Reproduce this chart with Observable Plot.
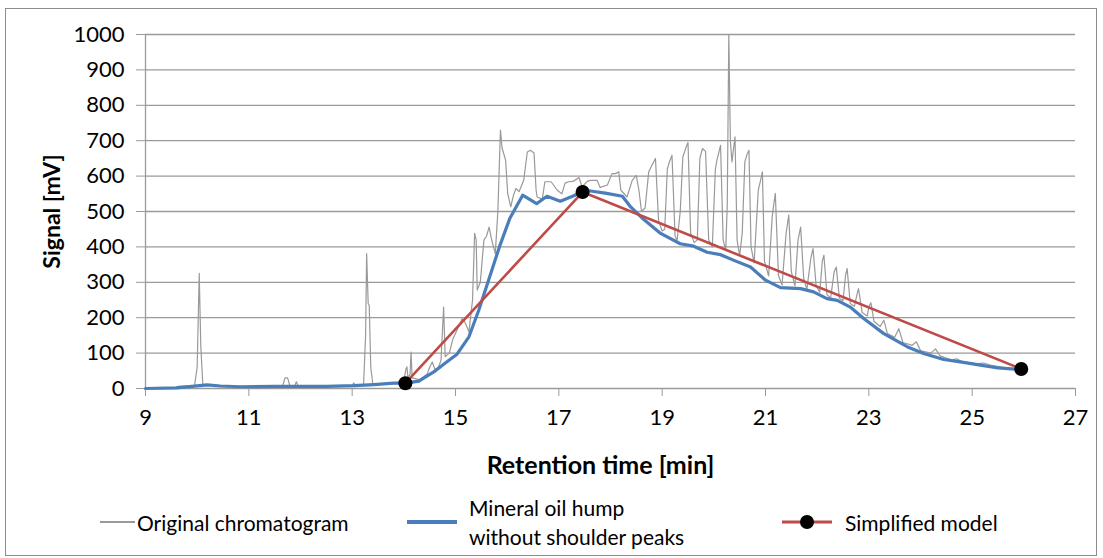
<!DOCTYPE html>
<html><head><meta charset="utf-8">
<script src="https://cdn.jsdelivr.net/npm/d3@7"></script>
<script src="https://cdn.jsdelivr.net/npm/@observablehq/plot@0.6"></script>
<style>
body{margin:0;background:#fff;font-family:Lato,"Open Sans",sans-serif;}
#wrap{position:relative;width:1103px;height:558px;overflow:hidden;background:#fff;}
#frame{position:absolute;left:5px;top:8px;width:1092px;height:548px;border:1px solid #8c8c8c;box-sizing:border-box;pointer-events:none;}
#chart{position:absolute;left:0;top:0;}
#legend{position:absolute;left:0;top:490px;width:1103px;height:68px;font-size:21px;color:#000;}
.item{position:absolute;}
.lt{position:absolute;white-space:nowrap;line-height:29px;}
</style></head>
<body>
<div id="wrap"><div id="chart"></div><div id="legend"></div><div id="frame"></div></div>
<script>
// ---- data ----
const xTicks = [9, 11, 13, 15, 17, 19, 21, 23, 25, 27];
const yTicks = [0, 100, 200, 300, 400, 500, 600, 700, 800, 900, 1000];
const xLabel = "Retention time [min]";
const yLabel = "Signal [mV]";
const seriesNames = ["Original chromatogram", "Mineral oil hump\nwithout shoulder peaks", "Simplified model"];

const chromTime = [9.0,9.6,9.62,9.95,10.0,10.04,10.07,10.11,10.3,10.6,11.65,11.7,11.75,11.8,11.88,11.92,11.96,13.0,13.03,13.06,13.22,13.26,13.28,13.31,13.33,13.36,13.4,13.9,14.0,14.04,14.06,14.08,14.12,14.14,14.16,14.3,14.45,14.5,14.55,14.6,14.65,14.72,14.77,14.8,14.88,14.95,15.03,15.13,15.19,15.26,15.33,15.37,15.4,15.42,15.48,15.55,15.6,15.65,15.7,15.77,15.82,15.87,15.9,15.97,16.01,16.07,16.12,16.17,16.23,16.32,16.39,16.45,16.52,16.56,16.58,16.68,16.73,16.85,16.97,17.06,17.12,17.19,17.27,17.33,17.39,17.45,17.55,17.61,17.74,17.8,17.94,18.03,18.1,18.16,18.2,18.32,18.42,18.5,18.55,18.6,18.67,18.74,18.8,18.87,18.93,19.0,19.05,19.1,19.14,19.19,19.25,19.29,19.35,19.4,19.46,19.5,19.55,19.62,19.68,19.73,19.78,19.84,19.9,19.97,20.03,20.06,20.13,20.18,20.23,20.26,20.29,20.32,20.35,20.41,20.45,20.5,20.55,20.6,20.64,20.68,20.72,20.78,20.86,20.9,20.94,20.98,21.06,21.13,21.16,21.19,21.25,21.32,21.4,21.45,21.5,21.57,21.63,21.68,21.74,21.8,21.88,21.92,21.98,22.05,22.1,22.13,22.19,22.26,22.33,22.37,22.43,22.5,22.55,22.58,22.64,22.72,22.77,22.8,22.87,22.97,23.0,23.04,23.1,23.22,23.29,23.36,23.5,23.58,23.66,23.84,23.92,24.0,24.2,24.29,24.38,24.6,24.7,24.8,25.1,25.22,25.35,25.6];
const chromSignal = [0,0,6,8,60,325,120,10,9,5,5,30,30,5,5,19,5,8,16,8,9,150,381,240,235,60,12,14,20,55,61,30,40,103,30,25,40,60,75,55,52,80,230,90,100,140,165,198,185,160,250,438,420,278,300,419,430,456,420,381,500,730,680,645,551,513,545,565,556,588,668,673,665,560,541,535,584,584,560,550,580,584,585,590,596,570,585,588,588,568,575,607,607,612,560,541,588,602,560,500,510,612,630,650,475,445,450,620,640,659,430,419,500,654,680,695,440,412,420,650,678,670,420,400,620,645,687,420,391,520,1000,700,640,711,420,375,440,640,660,673,400,355,560,585,612,360,318,485,520,551,320,292,440,490,330,290,420,456,310,280,370,395,290,272,360,377,265,255,330,343,255,248,320,339,240,232,265,282,215,205,230,242,190,175,193,155,145,169,130,122,132,107,100,112,92,80,84,76,70,72,66,60];

const humpTime = [9.0,9.6,9.9,10.19,10.45,10.84,11.5,12.5,13.03,13.42,13.8,14.03,14.29,14.58,14.81,15.03,15.26,15.45,15.64,15.85,16.05,16.3,16.57,16.77,17.03,17.3,17.45,17.61,17.9,18.23,18.39,18.64,18.97,19.35,19.61,19.87,20.13,20.39,20.71,21.0,21.29,21.68,21.93,22.19,22.39,22.64,22.9,23.29,23.74,24.06,24.45,24.77,25.16,25.5,25.9];
const humpSignal = [0,2,6,10,7,5,6,6,8,11,15,15,21,47,73,97,146,221,306,400,480,546,522,543,529,545,560,558,552,543,513,478,438,409,402,385,378,362,343,306,285,282,273,254,249,230,198,155,118,99,82,75,66,58,54];

const modelTime = [14.03, 17.46, 25.95];
const modelSignal = [15, 555, 55];

// ---- styles ----
const grayC = "#999999", blueC = "#4a7ebb", redC = "#be4b48", axisC = "#9a9a9a";

const chrom = chromTime.map((t, i) => ({t, v: chromSignal[i]}));
const hump = humpTime.map((t, i) => ({t, v: humpSignal[i]}));
const model = modelTime.map((t, i) => ({t, v: modelSignal[i]}));

const plot = Plot.plot({
  width: 1103, height: 490,
  marginLeft: 145, marginRight: 28, marginTop: 34, marginBottom: 102,
  style: {fontFamily: "Lato, 'Open Sans', sans-serif", fontSize: "22px", color: "#000", background: "transparent", overflow: "visible"},
  x: {domain: [9, 27]},
  y: {domain: [0, 1000]},
  marks: [
    Plot.gridY(yTicks, {stroke: axisC, strokeOpacity: 1, strokeWidth: 1.3}),
    Plot.ruleX([9], {stroke: axisC, strokeWidth: 1.3}),
    Plot.axisY(yTicks, {tickSize: 9, tickPadding: 12, stroke: axisC, fontSize: 22, tickFormat: d => String(d), label: null}),
    Plot.axisX(xTicks, {tickSize: 8, tickPadding: 13, stroke: axisC, fontSize: 22, tickFormat: d => String(d), label: null}),
    Plot.line(chrom, {x: "t", y: "v", stroke: grayC, strokeWidth: 1.2}),
    Plot.line(hump, {x: "t", y: "v", stroke: blueC, strokeWidth: 3.2}),
    Plot.line(model, {x: "t", y: "v", stroke: redC, strokeWidth: 2.6}),
    Plot.dot(model, {x: "t", y: "v", r: 7, fill: "#000", stroke: "none"}),
    Plot.text([yLabel], {frameAnchor: "left", dx: -93, rotate: -90, textAnchor: "middle", fontWeight: "bold", fontSize: 23}),
    Plot.text([xLabel], {frameAnchor: "bottom", dx: -10, dy: 85, textAnchor: "middle", fontWeight: "bold", fontSize: 25})
  ]
});
document.getElementById("chart").appendChild(plot);

// ---- legend (below the chart) ----
const legend = d3.select("#legend");
const cy = 32; // center line within legend div (page y = 522)
function swatch(x1, x2, color, w, dot) {
  const s = legend.append("svg").attr("class", "item")
    .style("left", x1 + "px").style("top", (cy - 10) + "px")
    .attr("width", x2 - x1).attr("height", 20);
  s.append("line").attr("x1", 0).attr("x2", x2 - x1).attr("y1", 10).attr("y2", 10)
    .attr("stroke", color).attr("stroke-width", w);
  if (dot) s.append("circle").attr("cx", (x2 - x1) / 2).attr("cy", 10).attr("r", 7).attr("fill", "#000");
}
function label(x, text) {
  const lines = text.split("\n");
  const d = legend.append("div").attr("class", "lt")
    .style("left", x + "px").style("top", (cy - lines.length * 29 / 2) + "px");
  d.html(lines.join("<br>"));
}
swatch(100, 135, grayC, 2);
label(137, seriesNames[0]);
swatch(407, 457, blueC, 4);
label(469, seriesNames[1]);
swatch(782, 832, redC, 3, true);
label(845, seriesNames[2]);
</script>
</body></html>
